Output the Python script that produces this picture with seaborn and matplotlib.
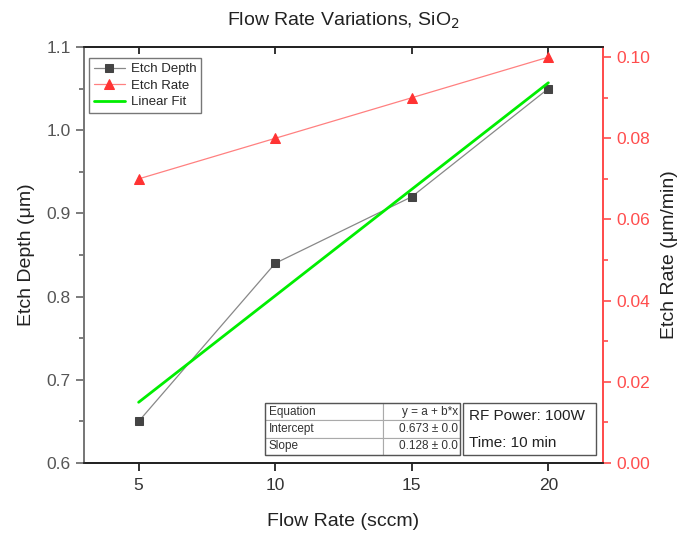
import numpy as np
import pandas as pd
import matplotlib
matplotlib.use("Agg")
import matplotlib.pyplot as plt
import seaborn as sns
from matplotlib.patches import Rectangle

flow_rate = [5, 10, 15, 20]
etch_depth = [0.65, 0.84, 0.92, 1.05]
etch_rate = [0.07, 0.08, 0.09, 0.10]
table_rows = [["Equation", "y = a + b*x"],
              ["Intercept", "0.673 \u00b1 0.0"],
              ["Slope", "0.128 \u00b1 0.0"]]
info_lines = ["RF Power: 100W", "Time: 10 min"]

sns.set_theme(style="white")
plt.rcParams['font.family'] = ['Liberation Sans', 'DejaVu Sans']

df = pd.DataFrame({"flow": flow_rate, "depth": etch_depth, "rate": etch_rate})
slope, intercept = np.polyfit(df["flow"], df["depth"], 1)
fit_x = np.array([min(flow_rate), max(flow_rate)])
fit_df = pd.DataFrame({"flow": fit_x, "fit": intercept + slope * fit_x})

fig = plt.figure(figsize=(6.81, 5.33), dpi=100)
ax = fig.add_axes([84/681, 1-463/533, 519/681, 416/533])
ax2 = ax.twinx()

gray_tick = "#666666"
red = "#ff4d4d"

sns.lineplot(data=df, x="flow", y="depth", ax=ax, color="#888888", lw=0.9,
             marker="s", markersize=6, markerfacecolor="#444444",
             markeredgecolor="#444444", label="Etch Depth", legend=False)
sns.lineplot(data=fit_df, x="flow", y="fit", ax=ax, color="#00ee00", lw=2.0,
             label="Linear Fit", legend=False)
sns.lineplot(data=df, x="flow", y="rate", ax=ax2, color="#ff8080", lw=0.9,
             marker="^", markersize=7, markerfacecolor="#ff3333",
             markeredgecolor="#ff3333", label="Etch Rate", legend=False)

ax.set_xlim(3, 22)
ax.set_ylim(0.6, 1.1)
ax2.set_ylim(0, 0.1025)
ax.set_xticks([5, 10, 15, 20])
ax.set_yticks([0.6, 0.7, 0.8, 0.9, 1.0, 1.1])
ax.set_yticklabels(["0.6", "0.7", "0.8", "0.9", "1.0", "1.1"])
ax.set_yticks(np.arange(0.65, 1.1, 0.1), minor=True)
ax2.set_yticks([0, 0.02, 0.04, 0.06, 0.08, 0.10])
ax2.set_yticklabels(["0.00", "0.02", "0.04", "0.06", "0.08", "0.10"])
ax2.set_yticks(np.arange(0.01, 0.1, 0.02), minor=True)

ax.set_xlabel("Flow Rate (sccm)", fontsize=14, color="#222222", labelpad=14)
ax2.set_xlabel("")
ax.set_ylabel("Etch Depth (\u03bcm)", fontsize=14, color="#222222", labelpad=8)
ax2.set_ylabel("Etch Rate (\u03bcm/min)", fontsize=14, color="#222222", labelpad=8)
ax.set_title("Flow Rate Variations, SiO$_2$", fontsize=14, color="#222222", pad=15)

ax.tick_params(axis="x", which="major", direction="out", length=6, width=1.3,
               colors="#222222", labelsize=12.5, labelcolor="#333333",
               bottom=True, top=False, pad=5)
ax.tick_params(axis="y", which="major", direction="out", length=6, width=1.2,
               colors=gray_tick, labelsize=12.5, labelcolor="#555555", left=True)
ax.tick_params(axis="y", which="minor", direction="out", length=3.5, width=1.2,
               colors=gray_tick, left=True)
ax2.tick_params(axis="y", which="major", direction="out", length=6, width=1.2,
                colors=red, labelsize=12.5, labelcolor=red, right=True)
ax2.tick_params(axis="y", which="minor", direction="out", length=3.5, width=1.2,
                colors=red, right=True)

# top inward ticks via twin x axis
ax2.xaxis.set_visible(True)
ax2.tick_params(axis="x", which="major", direction="in", length=5, width=1.3,
                colors="#222222", top=True, bottom=False, labeltop=False,
                labelbottom=False)

for a in (ax, ax2):
    a.spines["top"].set_color("#222222")
    a.spines["top"].set_linewidth(1.3)
    a.spines["bottom"].set_color("#222222")
    a.spines["bottom"].set_linewidth(1.3)
    a.spines["left"].set_color("#777777")
    a.spines["left"].set_linewidth(1.3)
    a.spines["right"].set_color(red)
    a.spines["right"].set_linewidth(1.3)

# legend
h1, lab1 = ax.get_legend_handles_labels()
h2, lab2 = ax2.get_legend_handles_labels()
handles = [h1[0], h2[0], h1[1]]
labels = [lab1[0], lab2[0], lab1[1]]
leg = ax2.legend(handles, labels, loc="upper left", bbox_to_anchor=(0.002, 0.982),
                 fontsize=9.5, frameon=True, fancybox=False, edgecolor="#555555",
                 handlelength=2.4, handletextpad=0.4, borderpad=0.35, labelspacing=0.32,
                 borderaxespad=0.3)
leg.get_frame().set_linewidth(1.0)

# fit table
tb = ax2.table(cellText=table_rows, colWidths=[118, 77], cellLoc="left",
               bbox=[(265-84)/519, (463-455)/416, (460-265)/519, (455-403)/416])
tb.auto_set_font_size(False)
tb.set_fontsize(8.5)
for (r, c), cell in tb.get_celld().items():
    cell.set_edgecolor("#aaaaaa")
    cell.set_linewidth(0.8)
    cell.PAD = 0.03
    cell.get_text().set_color("#333333")
    if c == 1:
        cell._loc = "right"
        cell.get_text().set_horizontalalignment("right")
ax2.add_patch(Rectangle(((265-84)/519, (463-455)/416), (460-265)/519, (455-403)/416,
                        transform=ax2.transAxes, fill=False, edgecolor="#555555", lw=1.0,
                        zorder=10))

# info box
ax2.add_patch(Rectangle(((463-84)/519, (463-455)/416), (596-463)/519, (455-403)/416,
                        transform=ax2.transAxes, fill=True, facecolor="white",
                        edgecolor="#555555", lw=1.0, zorder=10))
ax2.text((469-84)/519, (463-416)/416, info_lines[0], transform=ax2.transAxes,
         fontsize=11, color="#222222", va="center", ha="left", zorder=11)
ax2.text((469-84)/519, (463-443)/416, info_lines[1], transform=ax2.transAxes,
         fontsize=11, color="#222222", va="center", ha="left", zorder=11)

fig.savefig("out.png", dpi=100)
